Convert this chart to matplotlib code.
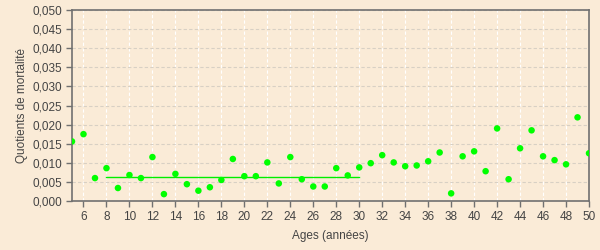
import matplotlib
matplotlib.use("Agg")
import matplotlib.pyplot as plt
from matplotlib.ticker import FuncFormatter, MultipleLocator

ages = list(range(5, 51))
quotients = [0.0156, 0.0175, 0.0060, 0.0086, 0.0034, 0.0068, 0.0060, 0.0115, 0.0018, 0.0071,
             0.0044, 0.0027, 0.0036, 0.0055, 0.0110, 0.0065, 0.0065, 0.0101, 0.0046, 0.0115,
             0.0057, 0.0038, 0.0038, 0.0086, 0.0067, 0.0088, 0.0099, 0.0120, 0.0101, 0.0091,
             0.0093, 0.0104, 0.0127, 0.0020, 0.0117, 0.0130, 0.0078, 0.0190, 0.0057, 0.0138,
             0.0185, 0.0117, 0.0107, 0.0096, 0.0219, 0.0125]
mean_range = [8, 30]
mean_value = 0.0062
xlabel = "Ages (années)"
ylabel = "Quotients de mortalité"

plt.rcParams['font.family'] = ['Liberation Sans', 'DejaVu Sans']

bg = "#FAEBD7"
fig = plt.figure(figsize=(6, 2.5), dpi=100, facecolor=bg)
ax = fig.add_axes([0.12, 0.196, 0.8617, 0.764])
ax.set_facecolor(bg)

ax.plot(mean_range, [mean_value, mean_value], color="#00EE00", lw=1, zorder=3)
ax.scatter(ages, quotients, s=22, color="#00FF00", edgecolors="none", zorder=4)

ax.set_xlim(5, 50)
ax.set_ylim(0, 0.050)
ax.set_xticks(range(6, 51, 2))
ax.yaxis.set_major_locator(MultipleLocator(0.005))
ax.yaxis.set_major_formatter(FuncFormatter(lambda v, p: f"{v:.3f}".replace(".", ",")))

ax.grid(axis="y", color="#D8D0C4", linestyle=(0, (3, 2)), lw=0.8)
ax.grid(axis="x", color="#FFFFFF", linestyle=(0, (3, 2)), lw=0.8)
ax.set_axisbelow(True)
for s in ax.spines.values():
    s.set_color("#707070")
    s.set_linewidth(1.2)
ax.tick_params(colors="#707070", labelcolor="#444444", labelsize=8.5, length=4, width=1, pad=3)
ax.set_xlabel(xlabel, fontsize=8.5, color="#444444", labelpad=5)
ax.set_ylabel(ylabel, fontsize=8.5, color="#444444", labelpad=3)

fig.savefig("out.png", dpi=100, facecolor=bg)
